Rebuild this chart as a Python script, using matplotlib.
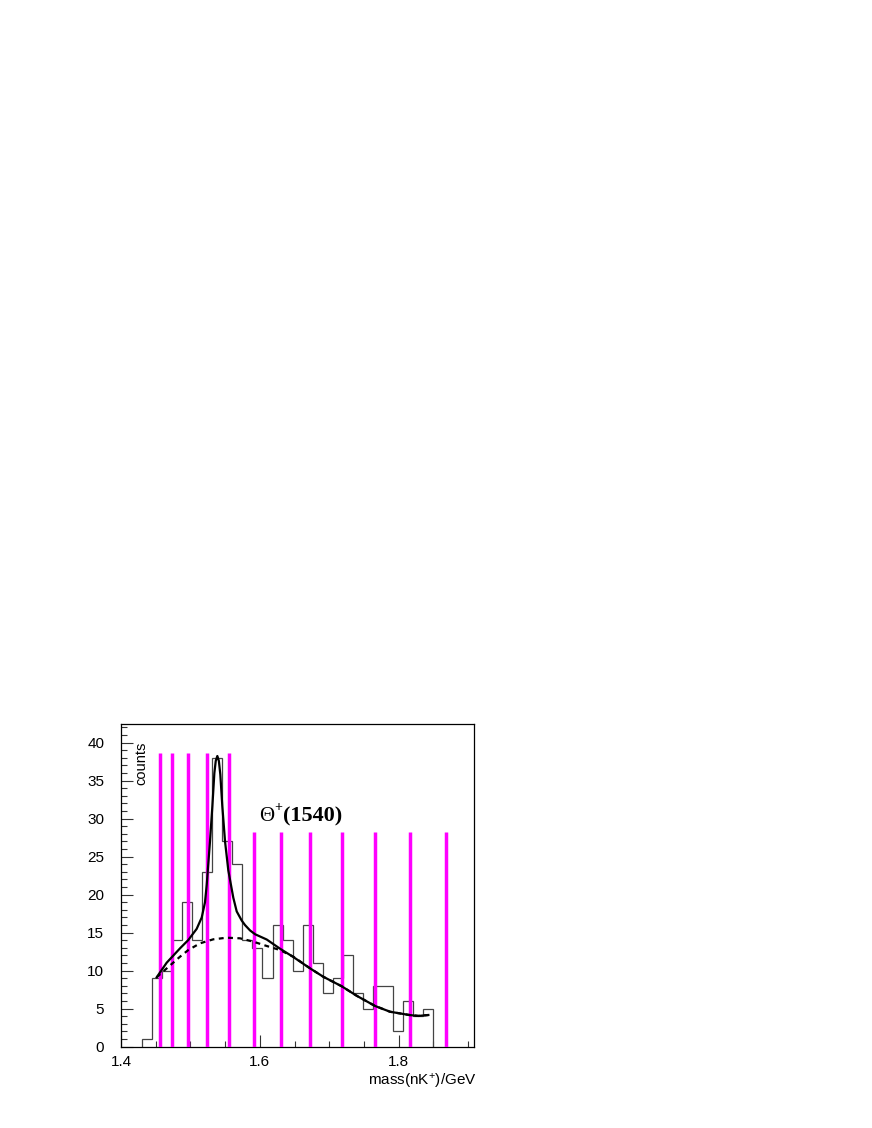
import numpy as np
import matplotlib
matplotlib.use('Agg')
import matplotlib.pyplot as plt
from matplotlib.ticker import MultipleLocator

plt.rcParams['font.family'] = ['Liberation Sans', 'DejaVu Sans']
plt.rcParams['mathtext.fontset'] = 'custom'
plt.rcParams['mathtext.rm'] = 'Liberation Sans'
plt.rcParams['mathtext.default'] = 'regular'

# ---- data ----
bin_lo = 1.43
bin_hi = 1.85
counts = [1, 9, 10, 14, 19, 14, 23, 38, 27, 24, 14, 13, 9, 16, 14,
          10, 16, 11, 7, 9, 12, 7, 5, 8, 8, 2, 6, 4, 5]

fit_x = [1.4514, 1.4658, 1.485, 1.497, 1.5042, 1.509, 1.5163, 1.521, 1.5235,
         1.5282, 1.5316, 1.5345, 1.5365, 1.5388, 1.541, 1.5431, 1.546, 1.5499,
         1.5546, 1.5618, 1.5667, 1.5739, 1.5787, 1.5859, 1.5931, 1.610, 1.629,
         1.6483, 1.6725, 1.6915, 1.718, 1.7396, 1.766, 1.7876, 1.8154, 1.8284,
         1.8428]
fit_y = [9.13, 11.05, 12.94, 14.04, 14.92, 15.5, 17.0, 19.0, 21.3,
         27.0, 31.6, 36.0, 37.6, 38.25, 37.6, 35.8, 31.6, 27.0,
         23.2, 19.6, 17.8, 16.6, 16.0, 15.3, 14.8, 14.1, 12.9,
         11.8, 10.3, 9.2, 7.95, 6.7, 5.36, 4.6, 4.17, 4.05,
         4.17]

bg_x = [1.4514, 1.4658, 1.485, 1.497, 1.5138, 1.533, 1.5523, 1.5715, 1.5906,
        1.610, 1.629, 1.6483, 1.6725, 1.6915, 1.718, 1.7396, 1.766, 1.7876,
        1.8154, 1.8284, 1.8428]
bg_y = [9.13, 10.3, 11.84, 12.72, 13.6, 14.13, 14.34, 14.26, 13.82,
        13.25, 12.72, 11.84, 10.3, 9.2, 7.95, 6.7, 5.36, 4.6,
        4.17, 4.05, 4.17]

lines_tall = [1.456, 1.474, 1.497, 1.5245, 1.556]
lines_short = [1.5915, 1.630, 1.6725, 1.718, 1.7655, 1.816, 1.8685]
tall_top = 38.7
short_top = 28.3

x_ticks = [1.4, 1.6, 1.8]

# ---- figure ----
W, H = 872, 1128
fig = plt.figure(figsize=(W / 100, H / 100), dpi=100)
ax = fig.add_axes([121 / W, (H - 1046.7) / H, (474.3 - 121) / W, (1046.7 - 724) / H])

edges = np.linspace(bin_lo, bin_hi, len(counts) + 1)
ax.stairs(counts, edges, baseline=0, color='#444444', lw=0.9, zorder=2)

ax.vlines(lines_tall, 0, tall_top, color='#ff00ff', lw=2.5, zorder=3)
ax.vlines(lines_short, 0, short_top, color='#ff00ff', lw=2.5, zorder=3)

ax.plot(bg_x, bg_y, color='black', lw=1.6, ls=(0, (2.2, 2.0)), zorder=4)
ax.plot(fit_x, fit_y, color='black', lw=1.6, zorder=5, solid_joinstyle='round')

ax.set_xlim(1.4, 1.909)
ax.set_ylim(0, 42.46)

ax.set_xticks(x_ticks)
ax.set_xticklabels([f'{v:.1f}' for v in x_ticks])
ax.xaxis.set_minor_locator(MultipleLocator(0.05))
ax.yaxis.set_major_locator(MultipleLocator(5))
ax.yaxis.set_minor_locator(MultipleLocator(1))

ax.tick_params(which='both', direction='in', top=False, right=False,
               width=0.8, color='#333333', labelsize=11)
ax.tick_params(which='major', length=8.5)
ax.tick_params(which='minor', length=4.3)
ax.tick_params(axis='y', which='major', pad=12)
ax.tick_params(axis='x', which='major', pad=6)
for s in ax.spines.values():
    s.set_linewidth(0.9)

ax.text(0.0586, 0.945, 'counts', transform=ax.transAxes, rotation=90,
        ha='center', va='top', fontsize=10.5)

fig.text(477 / W, (H - 1086) / H, 'mass(nK$^{+}$)/GeV', ha='right',
         va='baseline', fontsize=11)

serif = ['Liberation Serif', 'DejaVu Serif']
fig.text(259.5 / W, (H - 821) / H, 'Θ', family=serif, fontsize=15,
         ha='left', va='baseline')
fig.text(274.3 / W, (H - 811) / H, '+', family=serif, fontsize=10,
         fontweight='bold', ha='left', va='baseline')
fig.text(282.5 / W, (H - 821) / H, '(1540)', family=serif, fontsize=16,
         fontweight='bold', ha='left', va='baseline')

fig.savefig('out.png', dpi=100)
